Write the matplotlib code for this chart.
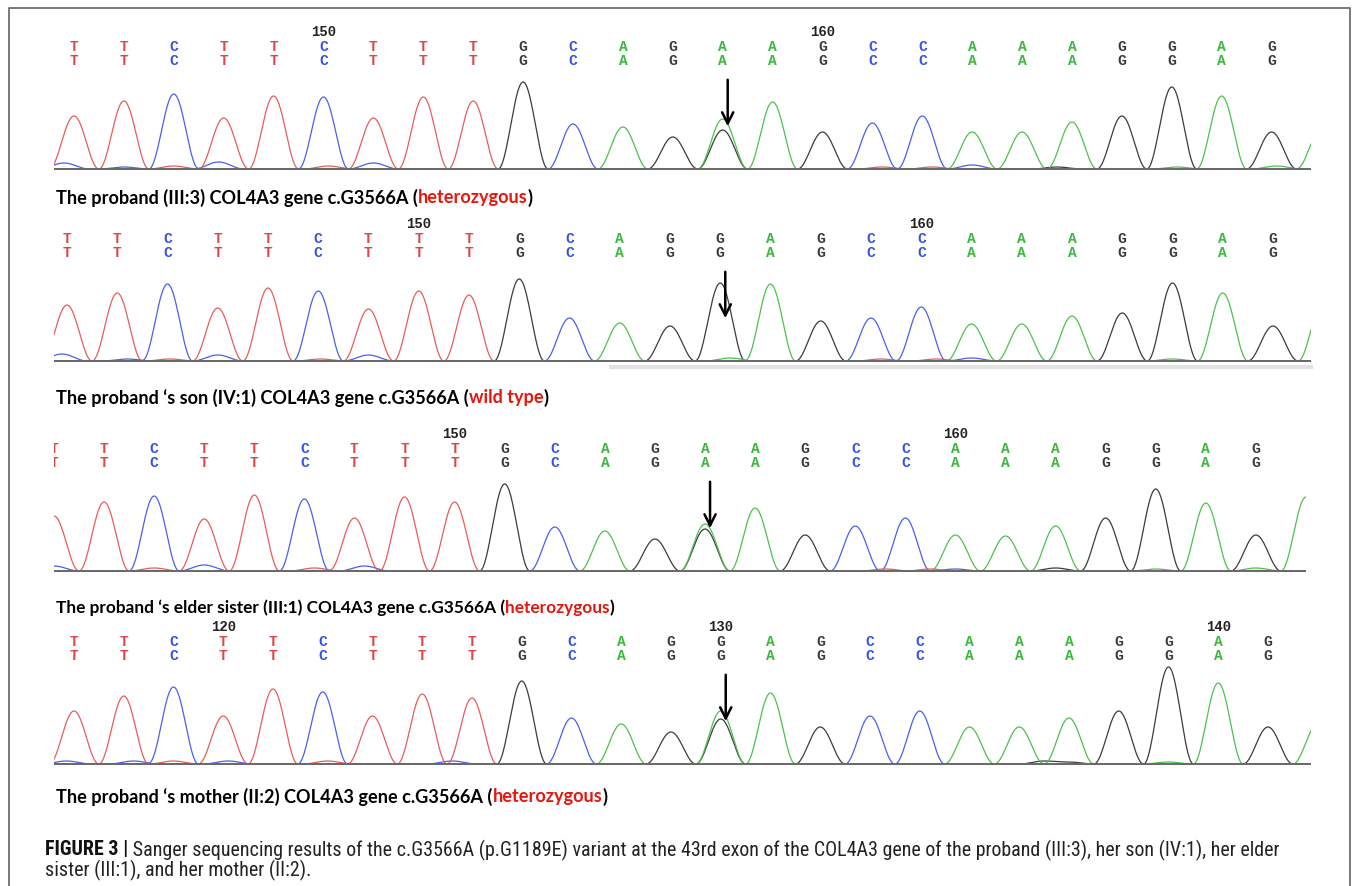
import numpy as np
import matplotlib
matplotlib.use('Agg')
import matplotlib.pyplot as plt
from matplotlib import font_manager
from matplotlib.lines import Line2D

# ---- data ----
# called bases (top and bottom rows are identical)
seq_proband = list("TTCTTCTTTGCAGAAGCCAAAGGAG")
seq_son = list("TTCTTCTTTGCAGGAGCCAAAGGAG")
seq_sister = list("TTCTTCTTTGCAGAAGCCAAAGGAG")
seq_mother = list("TTCTTCTTTGCAGGAGCCAAAGGAG")

# main peak height of every called base
h_proband = [53, 68, 75, 51, 73, 72, 51, 72, 68, 87, 45, 42, 32, 50, 67, 37, 46, 53, 37, 37, 47, 53, 82, 73, 37]
h_son = [56, 68, 77, 53, 73, 70, 52, 70, 66, 82, 43, 38, 35, 78, 77, 38, 43, 54, 37, 37, 45, 48, 78, 68, 35]
h_sister = [55, 69, 75, 52, 76, 72, 53, 74, 69, 87, 44, 40, 32, 47, 63, 36, 45, 53, 36, 35, 45, 53, 82, 68, 36]
h_mother = [53, 68, 77, 48, 75, 72, 48, 70, 66, 83, 46, 40, 32, 45, 71, 37, 48, 53, 37, 37, 46, 53, 97, 81, 37]

# next (uncalled) A peak, cut by the right edge
tail_base = 'A'
tail_heights = [40, 60, 74, 40]

# secondary peaks: (position in bases, base, height)
extra_proband = [(-0.2, 'C', 6), (1.0, 'C', 2), (2.0, 'T', 3), (2.9, 'C', 7), (5.1, 'T', 3), (6.0, 'C', 6),
                 (13.0, 'G', 39), (16.2, 'T', 2), (17.2, 'T', 2), (18.0, 'C', 4), (19.7, 'G', 2),
                 (22.1, 'A', 2), (24.1, 'A', 3)]
extra_son = [(-0.1, 'C', 7), (1.2, 'C', 2), (2.05, 'T', 2), (3.0, 'C', 6), (5.05, 'T', 2), (6.0, 'C', 6),
             (13.2, 'A', 3), (15.0, 'G', 2), (16.2, 'T', 2), (17.3, 'T', 2), (18.0, 'C', 3), (22.0, 'A', 2)]
extra_sister = [(0.0, 'C', 5), (2.0, 'T', 3), (3.0, 'C', 6), (5.2, 'T', 3), (6.2, 'C', 5),
                (13.0, 'G', 42), (16.6, 'T', 2), (17.5, 'T', 2), (18.0, 'C', 2), (20.0, 'G', 3),
                (22.0, 'A', 2), (24.0, 'A', 3)]
extra_mother = [(-0.15, 'C', 3), (1.2, 'C', 3), (2.0, 'T', 3), (3.1, 'C', 3), (5.1, 'T', 3), (7.6, 'C', 3),
                (13.0, 'A', 53), (19.5, 'G', 3), (20.0, 'G', 2), (22.0, 'A', 2)]

# position numbers printed above the letters: (base index, label)
marks_proband = [(5, '150'), (15, '160')]
marks_son = [(7, '150'), (17, '160')]
marks_sister = [(8, '150'), (18, '160')]
marks_mother = [(3, '120'), (13, '130'), (23, '140')]

variant_index = 13

captions = [
    ("The proband (III:3) COL4A3 gene c.G3566A (", "heterozygous", ")"),
    ("The proband \u2018s son (IV:1) COL4A3 gene c.G3566A (", "wild type", ")"),
    ("The proband \u2018s elder sister (III:1) COL4A3 gene c.G3566A (", "heterozygous", ")"),
    ("The proband \u2018s mother (II:2) COL4A3 gene c.G3566A (", "heterozygous", ")"),
]

fig_caption_bold = "FIGURE 3 |"
fig_caption_1 = (" Sanger sequencing results of the c.G3566A (p.G1189E) variant at the 43rd exon of the "
                 "COL4A3 gene of the proband (III:3), her son (IV:1), her elder")
fig_caption_2 = "sister (III:1), and her mother (II:2)."

# ---- styles / layout ----
W, H = 1355, 887
trace_col = {'A': '#4cc24c', 'C': '#4a5ff0', 'G': '#3c3c3c', 'T': '#e85c5c'}
letter_col = {'A': '#3cb83c', 'C': '#3352e6', 'G': '#3a3a3a', 'T': '#e04646'}

# baseline y, first base x, base spacing, trace left/right edge (pixels)
layout = [
    dict(base=170, first=74, sp=49.9, x0=54, x1=1311, cap=198, capw=474),
    dict(base=362, first=67, sp=50.25, x0=54, x1=1311, cap=398, capw=489),
    dict(base=572, first=54, sp=50.08, x0=54, x1=1306, cap=608, capw=556),
    dict(base=765, first=74, sp=49.75, x0=54, x1=1311, cap=797, capw=546),
]

seqs = [seq_proband, seq_son, seq_sister, seq_mother]
heights = [h_proband, h_son, h_sister, h_mother]
extras = [extra_proband, extra_son, extra_sister, extra_mother]
marks = [marks_proband, marks_son, marks_sister, marks_mother]


def fx(x):
    return x / W


def fy(y):
    return 1 - y / H


fig = plt.figure(figsize=(W / 100, H / 100), dpi=100)
fig.patch.set_facecolor('white')
renderer = fig.canvas.get_renderer()

names = {f.name for f in font_manager.fontManager.ttflist}
cap_family = 'Liberation Sans'
for cand in ['Liberation Sans Narrow', 'Arial Narrow', 'Roboto Condensed', 'Open Sans Condensed']:
    if cand in names:
        cap_family = cand
        break
panel_family = 'Lato' if 'Lato' in names else 'Open Sans'


def place_parts(x, y, parts, width, family):
    texts = []
    for s, color, weight in parts:
        t = fig.text(fx(x), fy(y), s, color=color, fontweight=weight, family=family,
                     fontsize=12, va='center', ha='left')
        texts.append(t)
    total = sum(t.get_window_extent(renderer).width for t in texts)
    size = 12 * width / total
    xx = x
    for t in texts:
        t.set_fontsize(size)
        t.set_x(fx(xx))
        xx += t.get_window_extent(renderer).width
    return size


def peak(xs, pos, h, w=0.5):
    d = np.clip(np.abs(xs - pos) / w, 0, 1)
    return h * 0.5 * (1 + np.cos(np.pi * d))


for k, lay in enumerate(layout):
    x0, x1, first, sp, base = lay['x0'], lay['x1'], lay['first'], lay['sp'], lay['base']
    ax = fig.add_axes([fx(x0), fy(base + 4), (x1 - x0) / W, 149 / H])
    xlo, xhi = (x0 - first) / sp, (x1 - first) / sp
    ax.set_xlim(xlo, xhi)
    ax.set_ylim(-4, 145)
    ax.axis('off')

    peaks = [(i, b, h) for i, (b, h) in enumerate(zip(seqs[k], heights[k]))]
    peaks += extras[k]
    peaks.append((len(seqs[k]), tail_base, tail_heights[k]))

    xs = np.linspace(xlo, xhi, 3000)
    for b in ['G', 'A', 'C', 'T']:
        y = np.zeros_like(xs)
        for pos, bb, h in peaks:
            if bb == b:
                y += peak(xs, pos, h)
        ax.plot(xs, y, color=trace_col[b], lw=0.9, zorder=2)
    ax.axhline(0, color='#6a6a6a', lw=1.4, zorder=3)

    for i, b in enumerate(seqs[k]):
        for yy in (123, 109):
            ax.text(i, yy, b, color=letter_col[b], ha='center', va='center',
                    family='Liberation Mono', fontweight='bold', fontsize=10.5, clip_on=True)
    for i, lab in marks[k]:
        ax.text(i, 138, lab, color='#222222', ha='center', va='center',
                family='Liberation Mono', fontweight='bold', fontsize=10)

    ax.annotate('', xy=(variant_index + 0.1, 40), xytext=(variant_index + 0.1, 92),
                arrowprops=dict(arrowstyle='->,head_length=0.5,head_width=0.25',
                                color='black', lw=1.8, mutation_scale=16),
                annotation_clip=False)

    if k == 1:
        # scroll bar of the viewer under the son's trace
        ax.plot([(611 - first) / sp, xhi], [-6, -6], color='#e2e2e2', lw=3, clip_on=False)

    pre, red, post = captions[k]
    place_parts(56, lay['cap'], [(pre, 'black', 'bold'), (red, '#e8150d', 'bold'),
                                 (post, 'black', 'bold')], lay['capw'], panel_family)

size = place_parts(45, 850, [(fig_caption_bold, '#111111', 'bold'),
                             (fig_caption_1, '#222222', 'normal')], 1234, cap_family)
fig.text(fx(45), fy(870), fig_caption_2, color='#222222', family=cap_family,
         fontsize=size, va='center', ha='left')

# outer frame, open at the bottom
fig.add_artist(Line2D([fx(9), fx(9), fx(1350), fx(1350)], [0, fy(9), fy(9), 0],
                      transform=fig.transFigure, color='#6e6e6e', lw=1.3))

fig.savefig('out.png', dpi=100, facecolor='white')
